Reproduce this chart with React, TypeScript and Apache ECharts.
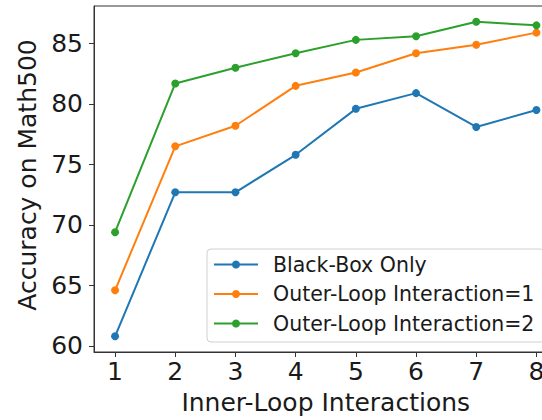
import React, { useEffect, useRef } from "react";
import * as echarts from "echarts";

const innerLoop = [1, 2, 3, 4, 5, 6, 7, 8];
const blackBoxOnly = [60.8, 72.7, 72.7, 75.8, 79.6, 80.9, 78.1, 79.5];
const outerLoop1 = [64.6, 76.5, 78.2, 81.5, 82.6, 84.2, 84.9, 85.9];
const outerLoop2 = [69.4, 81.7, 83.0, 84.2, 85.3, 85.6, 86.8, 86.5];
const yTicks = [60, 65, 70, 75, 80, 85];
const seriesNames = ["Black-Box Only", "Outer-Loop Interaction=1", "Outer-Loop Interaction=2"];
const colors = ["#1f77b4", "#ff7f0e", "#2ca02c"];

const FONT = "DejaVu Sans";

export default function App() {
  const ref = useRef<HTMLDivElement>(null);
  useEffect(() => {
    if (!ref.current) return;
    const chart = echarts.init(ref.current, undefined, { renderer: "svg" });
    const mk = (name: string, vals: number[], color: string) => ({
      name,
      type: "line",
      data: innerLoop.map((x, i) => [x, vals[i]]),
      symbol: "circle",
      symbolSize: 8,
      lineStyle: { color, width: 2 },
      itemStyle: { color },
      z: 3,
    });
    chart.setOption({
      animation: false,
      backgroundColor: "#ffffff",
      grid: {
        left: 94,
        top: 6,
        bottom: 67,
        right: 600 - 557.5,
        show: true,
        borderColor: "#333333",
        borderWidth: 1,
        backgroundColor: "transparent",
      },
      xAxis: {
        type: "value",
        min: 0.65,
        max: 8.35,
        name: "Inner-Loop Interactions",
        nameLocation: "middle",
        nameGap: 38,
        nameTextStyle: { fontFamily: FONT, fontSize: 25, color: "#1a1a1a" },
        splitLine: { show: false },
        axisLine: { show: true, lineStyle: { color: "#333333", width: 1 } },
        axisTick: { show: true, length: 5, customValues: innerLoop, lineStyle: { color: "#333333" } },
        axisLabel: {
          customValues: innerLoop,
          margin: 7,
          fontFamily: FONT,
          fontSize: 25,
          color: "#1a1a1a",
        },
      },
      yAxis: {
        type: "value",
        min: 59.5,
        max: 88.1,
        name: "Accuracy on Math500",
        nameLocation: "middle",
        nameGap: 50,
        nameTextStyle: { fontFamily: FONT, fontSize: 25, color: "#1a1a1a", padding: [0, 0, 0, 8] },
        splitLine: { show: false },
        axisLine: { show: true, lineStyle: { color: "#333333", width: 1 } },
        axisTick: { show: true, length: 5, customValues: yTicks, lineStyle: { color: "#333333" } },
        axisLabel: {
          customValues: yTicks,
          margin: 11,
          fontFamily: FONT,
          fontSize: 25,
          color: "#1a1a1a",
        },
      },
      legend: {
        show: true,
        orient: "vertical",
        left: 207,
        top: 249,
        data: seriesNames,
        itemWidth: 44,
        itemHeight: 10,
        itemGap: 8.5,
        padding: [5, 10, 8, 6],
        borderColor: "#d0d0d0",
        borderWidth: 1,
        borderRadius: 4,
        backgroundColor: "rgba(255,255,255,0.8)",
        textStyle: {
          fontFamily: FONT,
          fontSize: 20.5,
          color: "#1a1a1a",
          lineHeight: 21,
          padding: [0, 0, 0, 10],
        },
      },
      series: [
        mk(seriesNames[0], blackBoxOnly, colors[0]),
        mk(seriesNames[1], outerLoop1, colors[1]),
        mk(seriesNames[2], outerLoop2, colors[2]),
      ],
    });
    return () => chart.dispose();
  }, []);
  return (
    <div
      style={{
        position: "fixed",
        left: 0,
        top: 0,
        width: 542,
        height: 420,
        overflow: "hidden",
        background: "#fff",
      }}
    >
      <div ref={ref} style={{ width: 600, height: 420 }} />
    </div>
  );
}
